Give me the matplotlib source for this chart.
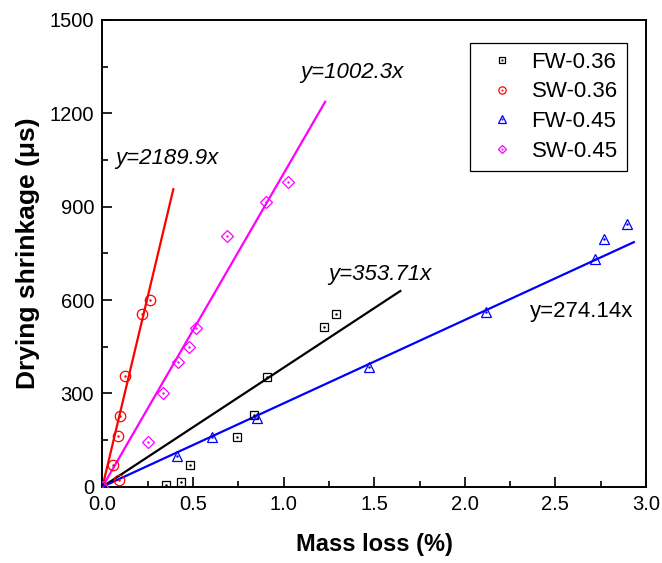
import matplotlib
matplotlib.use("Agg")
import matplotlib.pyplot as plt
from matplotlib.legend_handler import HandlerTuple
from matplotlib.ticker import MultipleLocator

plt.rcParams['font.family'] = ['Liberation Sans', 'DejaVu Sans']

# Data (mass loss %, drying shrinkage)
fw036_x = [0.0, 0.352, 0.435, 0.484, 0.743, 0.837, 0.908, 1.22, 1.29]
fw036_y = [0, 6, 16, 71, 161, 229, 351, 514, 556]
sw036_x = [0.0, 0.06, 0.093, 0.087, 0.097, 0.126, 0.22, 0.264]
sw036_y = [0, 70, 21, 163, 228, 355, 555, 600]
fw045_x = [0.0, 0.413, 0.603, 0.852, 1.469, 2.115, 2.717, 2.767, 2.896]
fw045_y = [0, 99, 161, 221, 384, 560, 732, 796, 844]
sw045_x = [0.0, 0.251, 0.334, 0.415, 0.478, 0.517, 0.686, 0.902, 1.023]
sw045_y = [0, 143, 300, 400, 448, 509, 806, 915, 979]

# Fitted lines (through origin) drawn to end points
fit_labels = ["y=353.71x", "y=2189.9x", "y=274.14x", "y=1002.3x"]
fit_x_end = [1.644, 0.391, 2.933, 1.229]
fit_y_end = [629, 956, 786, 1237]
fit_text_x = [1.246, 0.069, 2.362, 1.091]
fit_text_y = [681, 1054, 563, 1330]
fit_italic = [True, True, False, True]

series_names = ["FW-0.36", "SW-0.36", "FW-0.45", "SW-0.45"]
colors = ["black", "red", "blue", "magenta"]
markers = ["s", "o", "^", "D"]
msizes = [6.3, 7.5, 7.5, 6.3]
xs = [fw036_x, sw036_x, fw045_x, sw045_x]
ys = [fw036_y, sw036_y, fw045_y, sw045_y]

fig = plt.figure(figsize=(6.62, 5.63), dpi=100)
ax = fig.add_axes([0.1548, 0.1355, 0.9758 - 0.1548, 0.9645 - 0.1355])

# fit lines
for i in range(4):
    ax.plot([0, fit_x_end[i]], [0, fit_y_end[i]], color=colors[i], lw=1.6, zorder=2)

handles = []
for i in range(4):
    h1, = ax.plot(xs[i], ys[i], linestyle='none', marker=markers[i], ms=msizes[i],
                  mfc='none', mec=colors[i], mew=0.9, zorder=3)
    h2, = ax.plot(xs[i], ys[i], linestyle='none', marker='.', ms=1.5,
                  color=colors[i], zorder=4)
    handles.append((h1, h2))

for i in range(4):
    ax.text(fit_text_x[i], fit_text_y[i], fit_labels[i], fontsize=16,
            style='italic' if fit_italic[i] else 'normal',
            ha='left', va='center', color='black')

ax.set_xlim(0, 3.0)
ax.set_ylim(0, 1500)
ax.xaxis.set_major_locator(MultipleLocator(0.5))
ax.xaxis.set_minor_locator(MultipleLocator(0.25))
ax.yaxis.set_major_locator(MultipleLocator(300))
ax.yaxis.set_minor_locator(MultipleLocator(150))
ax.set_xticks([0, 0.5, 1.0, 1.5, 2.0, 2.5, 3.0])
ax.set_xticklabels(["0.0", "0.5", "1.0", "1.5", "2.0", "2.5", "3.0"])
ax.tick_params(which='both', direction='in', top=False, right=False, labelsize=14.5, width=1.2)
ax.tick_params(which='major', length=7, pad=6)
ax.tick_params(which='minor', length=4)
for s in ax.spines.values():
    s.set_linewidth(1.4)

ax.set_xlabel("Mass loss (%)", fontsize=17, fontweight='bold', labelpad=14)
ax.set_ylabel("Drying shrinkage (μs)", fontsize=19, fontweight='bold', labelpad=7)

leg = ax.legend(handles, series_names, handler_map={tuple: HandlerTuple(ndivide=1)},
                loc='upper left', bbox_to_anchor=(0.677, 0.951), fontsize=16,
                frameon=True, fancybox=False, edgecolor='black', framealpha=1,
                handlelength=2.0, handletextpad=0.35, borderpad=0.4, labelspacing=0.39,
                markerscale=0.7, borderaxespad=0)
leg.get_frame().set_linewidth(0.9)

fig.savefig("out.png", dpi=100)
